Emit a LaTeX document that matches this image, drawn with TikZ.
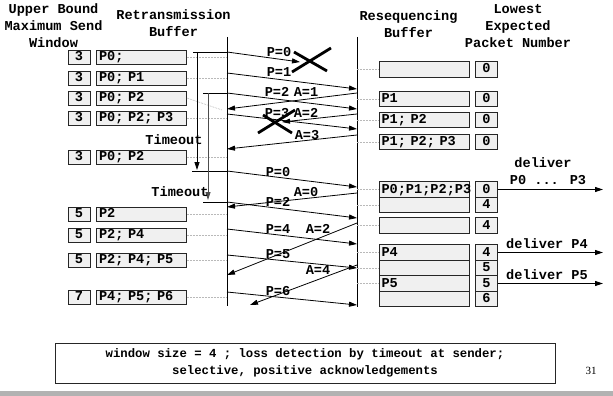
\documentclass[tikz,border=0pt]{standalone}
\usepackage{fontspec}
\newfontfamily\cour{Liberation Mono}
\newfontfamily\tms{Liberation Serif}
\usetikzlibrary{arrows.meta}
\begin{document}
\begin{tikzpicture}[x=1pt,y=-1pt,
  lab/.style={font=\cour\bfseries\fontsize{13.6}{17}\selectfont, inner sep=0pt},
  hdr/.style={lab, align=center},
  ubox/.style={lab, draw=black!85, fill=gray!12, line width=0.8pt, minimum width=22pt, minimum height=14pt, text height=9pt, text depth=2pt},
  bbox/.style={lab, draw=black!85, fill=gray!12, line width=0.8pt, minimum height=14pt, text width=85pt, align=left, inner xsep=2.5pt, inner ysep=0pt, text height=9pt, text depth=2pt},
  rbox/.style={bbox, minimum height=15.5pt},
  lbox/.style={ubox, minimum height=15.5pt},
  lead/.style={gray!55, line width=0.5pt, dash pattern=on 2pt off 1pt},
  arr/.style={-{Triangle[length=8pt,width=5pt]}, line width=0.8pt},
  tline/.style={line width=0.8pt},
  cross/.style={line width=2.8pt},
  note/.style={draw=black!85, line width=0.8pt, minimum width=500pt, minimum height=40pt, align=center, font=\cour\bfseries\fontsize{12.3}{17}\selectfont, inner sep=0pt}
]
\useasboundingbox (0,0) rectangle (613,396);

% headers
\node[hdr] (h1) at (53.5,26) {Upper Bound\\Maximum Send\\Window};
\node[hdr] (h2) at (173.5,23.5) {Retransmission\\Buffer};
\node[hdr] (h3) at (408.5,24) {Resequencing\\Buffer};
\node[hdr] (h4) at (518,26.5) {Lowest\\Expected\\Packet Number};

% time lines
\coordinate (stop) at (227,37); \coordinate (sbot) at (227,306);
\coordinate (rtop) at (357,37); \coordinate (rbot) at (357,307);
\draw[tline] (stop) -- (sbot);
\draw[tline] (rtop) -- (rbot);

% sender rows
\node[ubox] (su1) at (79,57) {3};  \node[bbox] (sb1) at (141.5,57) {P0;};
\node[ubox] (su2) at (79,78) {3};  \node[bbox] (sb2) at (141.5,78) {P0; P1};
\node[ubox] (su3) at (79,98) {3};  \node[bbox] (sb3) at (141.5,98) {P0; P2};
\node[ubox] (su4) at (79,118) {3}; \node[bbox] (sb4) at (141.5,118) {P0; P2; P3};
\node[ubox] (su5) at (79,157) {3}; \node[bbox] (sb5) at (141.5,157) {P0; P2};
\node[ubox] (su6) at (79,214) {5}; \node[bbox] (sb6) at (141.5,214) {P2};
\node[ubox] (su7) at (79,235) {5}; \node[bbox] (sb7) at (141.5,235) {P2; P4};
\node[ubox] (su8) at (79,260) {5}; \node[bbox] (sb8) at (141.5,260) {P2; P4; P5};
\node[ubox] (su9) at (79,297) {7}; \node[bbox] (sb9) at (141.5,297) {P4; P5; P6};

% sender leaders
\coordinate (d3) at (222,110);
\draw[lead] (sb1.east) -- (sb1.east -| stop);
\draw[lead] (sb2.east) -- (sb2.east -| stop);
\draw[lead] (sb3.east) -- (d3);
\draw[lead] (sb4.east) -- (sb4.east -| stop);
\draw[lead] (sb5.east) -- (sb5.east -| stop);
\draw[lead] (sb6.east) -- (sb6.east -| stop);
\draw[lead] (sb7.east) -- (sb7.east -| stop);
\draw[lead] (sb8.east) -- (sb8.east -| stop);
\draw[lead] (sb9.east) -- (sb9.east -| stop);

% receiver rows
\node[rbox] (rb1) at (424,69.5) {};          \node[lbox] (rl1) at (486.5,69.5) {0};
\node[rbox] (rb2) at (424,99) {P1};          \node[lbox] (rl2) at (486.5,99) {0};
\node[rbox] (rb3) at (424,120) {P1; P2};     \node[lbox] (rl3) at (486.5,120) {0};
\node[rbox] (rb4) at (424,142) {P1; P2; P3}; \node[lbox] (rl4) at (486.5,142) {0};
\node[rbox] (rb5) at (424,189.5) {P0;P1;P2;P3}; \node[lbox] (rl5) at (486.5,189.5) {0};
\node[rbox] (rb6) at (424,205) {};           \node[lbox] (rl6) at (486.5,205) {4};
\node[rbox] (rb7) at (424,225.5) {};         \node[lbox] (rl7) at (486.5,225.5) {4};
\node[rbox] (rb8) at (424,252.5) {P4};       \node[lbox] (rl8) at (486.5,252.5) {4};
\node[rbox] (rb9) at (424,268) {};           \node[lbox] (rl9) at (486.5,268) {5};
\node[rbox] (rb10) at (424,283.5) {P5};      \node[lbox] (rl10) at (486.5,283.5) {5};
\node[rbox] (rb11) at (424,299) {};          \node[lbox] (rl11) at (486.5,299) {6};

% receiver leaders
\foreach \k in {1,...,10} {\draw[lead] (rb\k.west -| rtop) -- (rb\k.west);}

% timers
\coordinate (t1a) at (193,52); \coordinate (t1u) at (197,52); \coordinate (t1d) at (197,170); \coordinate (t1b) at (192,171);
\coordinate (t2a) at (203,93); \coordinate (t2u) at (208,93); \coordinate (t2d) at (208,200); \coordinate (t2b) at (203,202);
\coordinate (a1s) at (227,52);  \coordinate (a1e) at (300,62);
\coordinate (a3s) at (227,93);
\coordinate (a8s) at (227,171);
\coordinate (a10s) at (227,202);
\draw[tline] (t1a) -- (a1s);
\draw[arr] (t1u) -- (t1d);
\draw[tline] (t1b) -- (a8s);
\draw[tline] (t2a) -- (a3s);
\draw[arr, black!70] (t2u) -- (t2d);
\draw[tline] (t2b) -- (a10s);
\node[lab] (to1) at (174,140) {Timeout};
\node[lab] (to2) at (180,192) {Timeout};

% messages
\coordinate (a2s) at (227,73);  \coordinate (a2e) at (357,89);
\coordinate (a3e) at (357,109);
\coordinate (a4s) at (357,93);  \coordinate (a4e) at (227,109);
\coordinate (a5s) at (227,114); \coordinate (a5e) at (357,129);
\coordinate (a6s) at (357,114); \coordinate (a6e) at (282,122);
\coordinate (a7s) at (357,135); \coordinate (a7e) at (227,149);
\coordinate (a8e) at (357,187);
\coordinate (a9s) at (357,193); \coordinate (a9e) at (227,207);
\coordinate (a10e) at (357,218);
\coordinate (a11s) at (227,229); \coordinate (a11e) at (357,244);
\coordinate (a12s) at (357,223); \coordinate (a12e) at (227,275);
\coordinate (a13s) at (227,255); \coordinate (a13e) at (357,268);
\coordinate (a14s) at (357,265); \coordinate (a14e) at (250,305);
\coordinate (a15s) at (227,292); \coordinate (a15e) at (357,305);

\draw[arr] (a1s) -- (a1e);
\draw[arr] (a2s) -- (a2e);
\draw[arr] (a3s) -- (a3e);
\draw[arr] (a4s) -- (a4e);
\draw[arr] (a5s) -- (a5e);
\draw[arr] (a6s) -- (a6e);
\draw[arr] (a7s) -- (a7e);
\draw[arr] (a8s) -- (a8e);
\draw[arr] (a9s) -- (a9e);
\draw[arr] (a10s) -- (a10e);
\draw[arr] (a11s) -- (a11e);
\draw[arr] (a12s) -- (a12e);
\draw[arr] (a13s) -- (a13e);
\draw[arr] (a14s) -- (a14e);
\draw[arr] (a15s) -- (a15e);

% crosses
\coordinate (x1a) at (294,52); \coordinate (x1b) at (327,71);
\coordinate (x1c) at (292,72); \coordinate (x1d) at (331,48);
\draw[cross] (x1a) -- (x1b); \draw[cross] (x1c) -- (x1d);
\coordinate (x2a) at (258,133); \coordinate (x2b) at (295,110);
\coordinate (x2c) at (263,115); \coordinate (x2d) at (292,133);
\draw[cross] (x2a) -- (x2b); \draw[cross] (x2c) -- (x2d);

% message labels
\node[lab] (l1) at (279,52) {P=0};
\node[lab] (l2) at (279,72) {P=1};
\node[lab] (l3) at (277,92) {P=2};
\node[lab] (l4) at (306,92) {A=1};
\node[lab] (l5) at (277,113) {P=3};
\node[lab] (l6) at (306,113) {A=2};
\node[lab] (l7) at (307,135) {A=3};
\node[lab] (l8) at (278,172) {P=0};
\node[lab] (l9) at (306,192) {A=0};
\node[lab] (l10) at (278,202) {P=2};
\node[lab] (l11) at (278,229) {P=4};
\node[lab] (l12) at (318,229) {A=2};
\node[lab] (l13) at (278,254) {P=5};
\node[lab] (l14) at (318,270) {A=4};
\node[lab] (l15) at (278,291) {P=6};

% deliveries
\coordinate (dv1) at (603,189.5);
\coordinate (dv2) at (603,252.5);
\coordinate (dv3) at (603,283.5);
\draw[arr] (rl5.east) -- (dv1);
\draw[arr] (rl8.east) -- (dv2);
\draw[arr] (rl10.east) -- (dv3);
\node[lab] (dl1) at (543,163) {deliver};
\node[lab] (dl2) at (548,180) {P0 ... P3};
\node[lab] (dl3) at (547,244) {deliver P4};
\node[lab] (dl4) at (547,275) {deliver P5};

% note
\node[note] (nt) at (305,363) {window size = 4 ; loss detection by timeout at sender;\\selective, positive acknowledgements};
\node[font=\tms\fontsize{11}{13}\selectfont, inner sep=0pt] (pg) at (591,371) {31};
\fill[gray!60] (0,391) rectangle (613,396);
\end{tikzpicture}
\end{document}
